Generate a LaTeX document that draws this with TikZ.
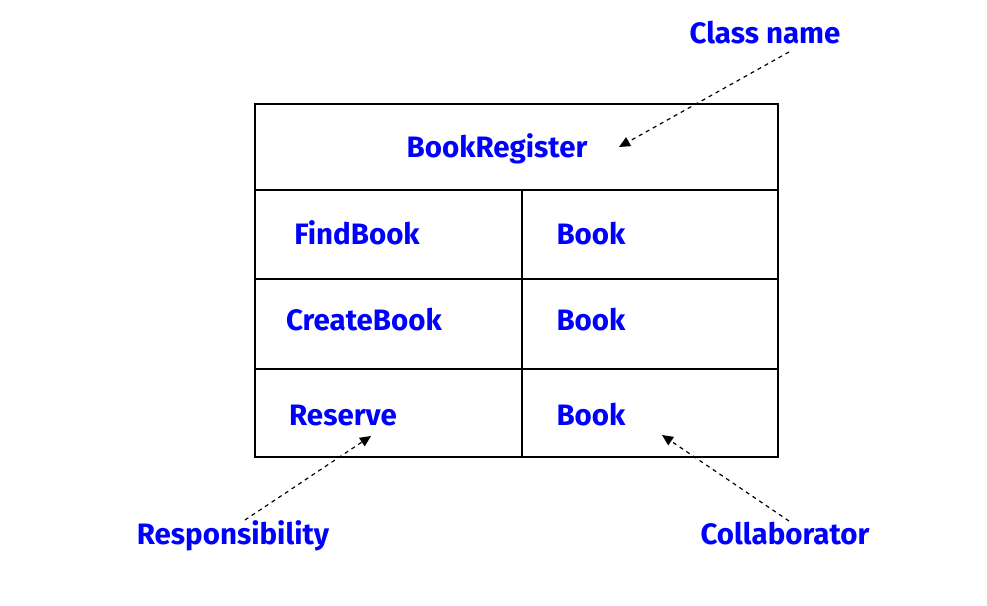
\documentclass[tikz,border=0pt]{standalone}
\usepackage{fontspec}
\setmainfont{Fira Sans}
\usetikzlibrary{arrows.meta}
\definecolor{crcblue}{RGB}{0,0,255}
\tikzset{
  lbl/.style={text=crcblue, font=\fontsize{29.5}{31}\selectfont\bfseries, inner sep=0pt, anchor=base},
  grid/.style={line width=1.3pt, draw=black},
  pointer/.style={dashed, dash pattern=on 4pt off 4pt, line width=1.2pt, -{Triangle[length=11pt,width=10pt]}}
}
\begin{document}
\begin{tikzpicture}[x=1pt,y=-1pt]
\useasboundingbox (0,0) rectangle (987,605);
% table
\draw[grid] (255,104) rectangle (778,457);
\draw[grid] (255,190) -- (778,190);
\draw[grid] (255,279) -- (778,279);
\draw[grid] (255,369) -- (778,369);
\draw[grid] (522,190) -- (522,457);
% texts
\node[lbl] (classname) at (765,43) {Class name};
\node[lbl] (cls) at (497,157) {BookRegister};
\node[lbl] (r1) at (357,244) {FindBook};
\node[lbl] (c1) at (591,244) {Book};
\node[lbl] (r2) at (364,330) {CreateBook};
\node[lbl] (c2) at (591,330) {Book};
\node[lbl] (r3) at (343,425) {Reserve};
\node[lbl] (c3) at (591,425) {Book};
\node[lbl] (resp) at (233,544) {Responsibility};
\node[lbl] (coll) at (785,544) {Collaborator};
% pointer ends
\coordinate (s1) at (789,52);
\coordinate (t1) at (619,147);
\coordinate (s2) at (245,520);
\coordinate (t2) at (371,436);
\coordinate (s3) at (789,521);
\coordinate (t3) at (662,435);
\draw[pointer] (s1) -- (t1);
\draw[pointer] (s2) -- (t2);
\draw[pointer] (s3) -- (t3);
\end{tikzpicture}
\end{document}
